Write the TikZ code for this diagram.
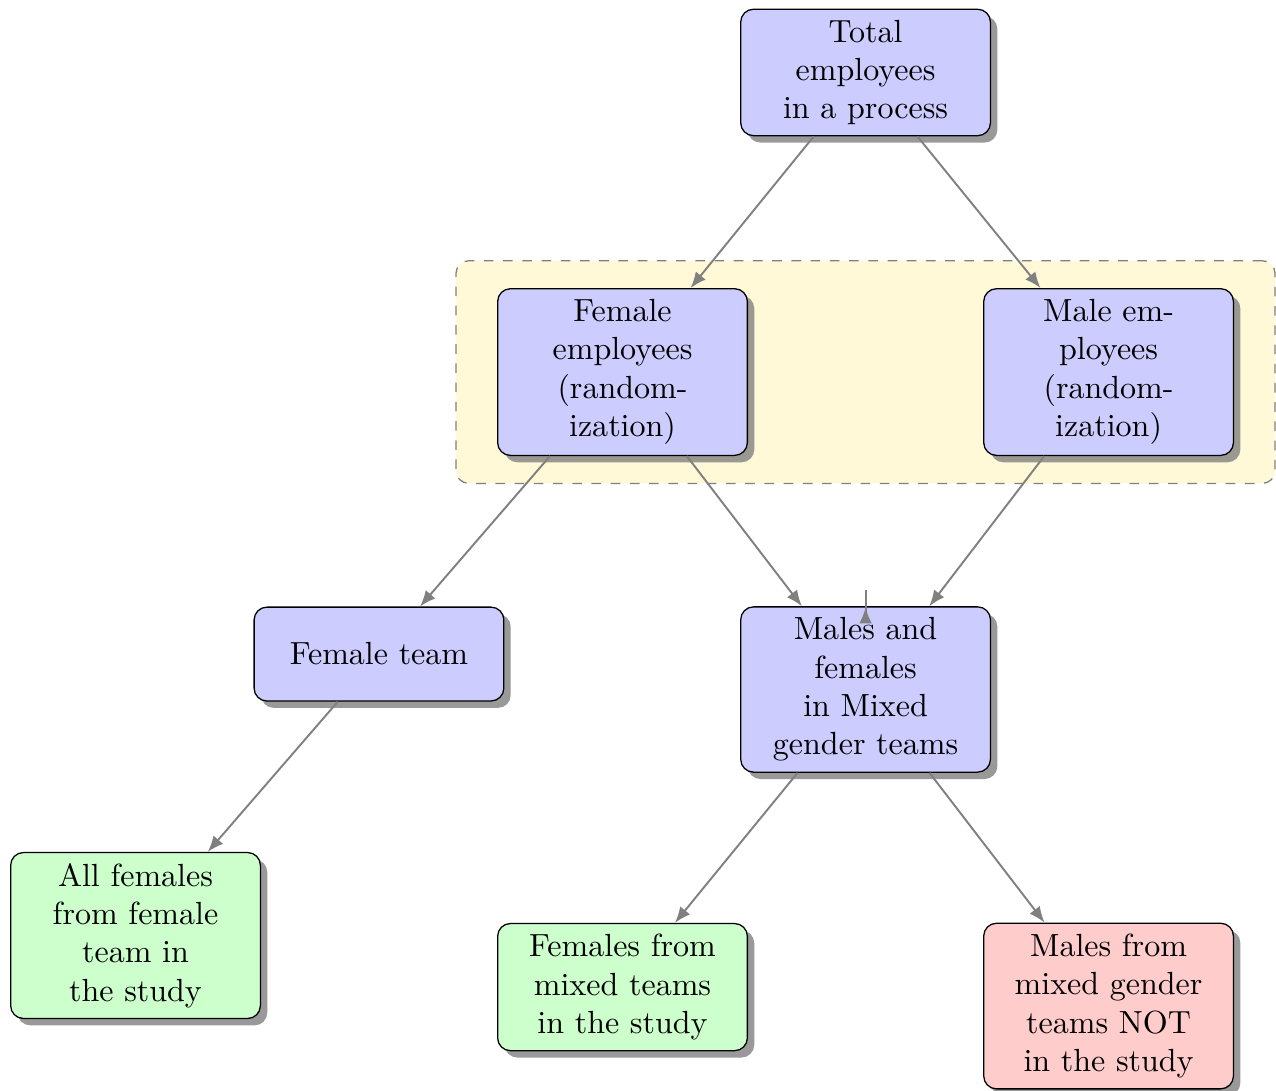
\documentclass[tikz,border=0pt]{standalone}
\usetikzlibrary{shadows,fit,backgrounds,arrows.meta}
\definecolor{panelyellow}{RGB}{255,249,216}

\begin{document}
\begin{tikzpicture}
  [box/.style={draw, rounded corners, fill=blue!20, drop shadow={opacity=.8},
      align=center, minimum width=2.74cm, minimum height=1.03cm, inner sep=3.3pt},
   instudy/.style={box, fill=green!20},
   outstudy/.style={box, fill=red!20},
   line/.style={draw=gray, semithick, -{Latex[length=5pt,width=4pt]}},
   panel/.style={draw=black!50, dashed, rounded corners, fill=panelyellow,
      inner xsep=0.45cm, inner ysep=0.3cm}]
  \useasboundingbox (0,0) rectangle (14,-11.97);
  \node[box] (total) at (9.497,-0.795) {Total\\employees\\in a process};
  \node[box] (femp) at (6.830,-4.082) {Female\\employees\\(random-\\ization)};
  \node[box] (memp) at (12.163,-4.082) {Male em-\\ployees\\(random-\\ization)};
  \node[box] (fteam) at (4.158,-7.176) {Female team};
  \node[box] (mixed) at (9.497,-7.565) {Males and\\females\\in Mixed\\gender teams};
  \node[instudy] (allf) at (1.487,-10.264) {All females\\from female\\team in\\the study};
  \node[instudy] (fmix) at (6.830,-10.830) {Females from\\mixed teams\\in the study};
  \node[outstudy] (mmix) at (12.163,-11.038) {Males from\\mixed gender\\teams NOT\\in the study};
  \begin{scope}[on background layer]
    \node[panel, fit=(femp)(memp)] (randpanel) {};
  \end{scope}
  \foreach \from/\to in {total/femp,total/memp,femp/fteam,femp/mixed,memp/mixed,
      fteam/allf,mixed/fmix,mixed/mmix}
    \path[line] (\from) -- (\to);
  \coordinate (stubtop) at (9.497,-6.47);
  \coordinate (stubend) at (9.497,-6.84);
  \draw[draw=gray, semithick, -{Latex[length=5pt,width=4pt,reversed]}] (stubtop) -- (stubend);
\end{tikzpicture}
\end{document}
